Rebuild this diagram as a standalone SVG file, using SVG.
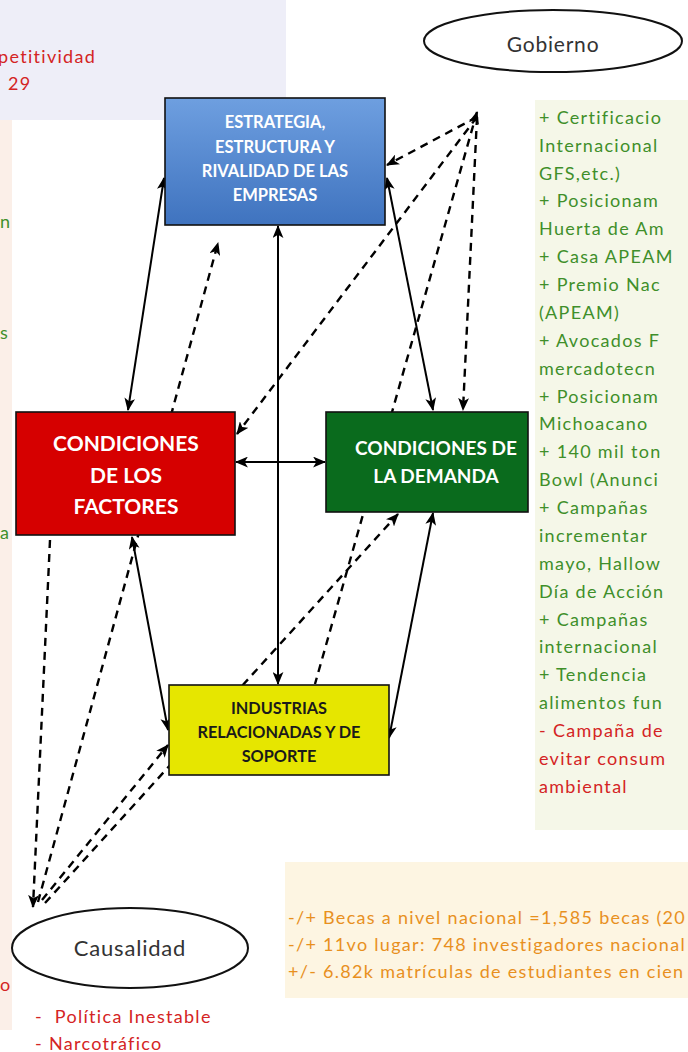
<svg xmlns="http://www.w3.org/2000/svg" width="688" height="1052" viewBox="0 0 688 1052">
<defs>
<style>
.sol{stroke:#000;stroke-width:2;fill:none}
.dsh{stroke:#000;stroke-width:2.4;fill:none;stroke-dasharray:8 6}
.box{stroke:#111;stroke-width:1.6}
.bt{font-family:Lato,"Liberation Sans",sans-serif;font-weight:bold;text-anchor:middle}
.rt{font-family:Lato,"Liberation Sans",sans-serif;font-size:18px;letter-spacing:1.3px}
.g{fill:#3f8f2a}
.r{fill:#d42424}
.o{fill:#e8901e}
.ell{fill:#fff;stroke:#111;stroke-width:2}
.et{font-family:Lato,"Liberation Sans",sans-serif;fill:#333;text-anchor:middle;letter-spacing:0.8px}
</style>
<linearGradient id="blue" x1="0" y1="0" x2="0" y2="1">
<stop offset="0" stop-color="#6e9fe0"/>
<stop offset="1" stop-color="#3f73bf"/>
</linearGradient>
<marker id="ah" markerUnits="userSpaceOnUse" viewBox="0 0 12 10" refX="11" refY="5" markerWidth="13" markerHeight="11" orient="auto-start-reverse">
<path d="M0,0 L12,5 L0,10 L3,5 z" fill="#000"/>
</marker>
</defs>

<!-- background panels -->
<g id="panels">
<rect x="0" y="0" width="286" height="120" fill="#eeeef8"/>
<rect x="0" y="120" width="12" height="910" fill="#fbefe8"/>
<rect x="535" y="100" width="153" height="730" fill="#f5f7e8"/>
<rect x="285" y="862" width="403" height="136" fill="#fdf5e2"/>
</g>

<!-- connectors -->
<g id="connectors">
<line class="sol" x1="128" y1="410" x2="164" y2="178" marker-start="url(#ah)" marker-end="url(#ah)"/>
<line class="sol" x1="387" y1="178" x2="433" y2="410" marker-start="url(#ah)" marker-end="url(#ah)"/>
<line class="sol" x1="278" y1="226" x2="278" y2="684" marker-start="url(#ah)" marker-end="url(#ah)"/>
<line class="sol" x1="236" y1="462" x2="325" y2="462" marker-start="url(#ah)" marker-end="url(#ah)"/>
<line class="sol" x1="132" y1="537" x2="168" y2="730" marker-start="url(#ah)" marker-end="url(#ah)"/>
<line class="sol" x1="433" y1="513" x2="389" y2="738" marker-start="url(#ah)" marker-end="url(#ah)"/>

<line class="dsh" x1="477" y1="117" x2="387" y2="165" marker-end="url(#ah)"/>
<line class="dsh" x1="477" y1="117" x2="237" y2="434" marker-end="url(#ah)"/>
<line class="dsh" x1="477" y1="117" x2="463" y2="410" marker-end="url(#ah)"/>
<line class="dsh" x1="477" y1="112" x2="315" y2="684" marker-start="url(#ah)"/>

<line class="dsh" x1="50" y1="540" x2="33" y2="907" marker-end="url(#ah)"/>
<line class="dsh" x1="38" y1="902" x2="218" y2="243" marker-end="url(#ah)"/>
<line class="dsh" x1="42" y1="900" x2="168" y2="745" marker-end="url(#ah)"/>
<line class="dsh" x1="45" y1="903" x2="398" y2="514" marker-end="url(#ah)"/>
</g>

<g id="estrategia">
<rect class="box" x="165" y="98" width="220" height="127" fill="url(#blue)"/>
<text class="bt" font-size="16.5" fill="#fff"><tspan x="275" y="128">ESTRATEGIA,</tspan><tspan x="275" y="153">ESTRUCTURA Y</tspan><tspan x="275" y="177">RIVALIDAD DE LAS</tspan><tspan x="275" y="201">EMPRESAS</tspan></text>
</g>

<g id="factores">
<rect class="box" x="16" y="412" width="219" height="123" fill="#d60000"/>
<text class="bt" font-size="21" fill="#fff"><tspan x="126" y="451">CONDICIONES</tspan><tspan x="126" y="483">DE LOS</tspan><tspan x="126" y="514">FACTORES</tspan></text>
</g>

<g id="demanda">
<rect class="box" x="326" y="412" width="202" height="100" fill="#0a6b1d"/>
<text class="bt" font-size="19" fill="#fff"><tspan x="436" y="455">CONDICIONES DE</tspan><tspan x="436" y="483">LA DEMANDA</tspan></text>
</g>

<g id="industrias">
<rect class="box" x="169" y="685" width="220" height="90" fill="#e6e600"/>
<text class="bt" font-size="16.3" fill="#1a1a1a"><tspan x="279" y="714">INDUSTRIAS</tspan><tspan x="279" y="738">RELACIONADAS Y DE</tspan><tspan x="279" y="762">SOPORTE</tspan></text>
</g>

<g id="gobierno">
<ellipse class="ell" cx="553" cy="41" rx="129" ry="31"/>
<text class="et" x="553" y="52" font-size="21">Gobierno</text>
</g>

<g id="causalidad">
<ellipse class="ell" cx="130" cy="948" rx="118" ry="40"/>
<text class="et" x="130" y="956" font-size="22">Causalidad</text>
</g>

<!-- side texts -->
<g id="texts">
<text class="rt r" x="-2" y="63" font-size="19.5" letter-spacing="0.6">petitividad</text>
<text class="rt r" x="8" y="90" font-size="19.5" letter-spacing="0.6">29</text>
<text class="rt g" x="0" y="228">n</text>
<text class="rt g" x="0" y="339">s</text>
<text class="rt g" x="0" y="539">a</text>
<text class="rt r" x="0" y="991">o</text>

<text class="rt g" x="539" y="124">+ Certificacio</text>
<text class="rt g" x="539" y="152">Internacional</text>
<text class="rt g" x="539" y="180">GFS,etc.)</text>
<text class="rt g" x="539" y="207">+ Posicionam</text>
<text class="rt g" x="539" y="235">Huerta de Am</text>
<text class="rt g" x="539" y="263">+ Casa APEAM</text>
<text class="rt g" x="539" y="291">+ Premio Nac</text>
<text class="rt g" x="539" y="319">(APEAM)</text>
<text class="rt g" x="539" y="347">+ Avocados F</text>
<text class="rt g" x="539" y="375">mercadotecn</text>
<text class="rt g" x="539" y="403">+ Posicionam</text>
<text class="rt g" x="539" y="430">Michoacano</text>
<text class="rt g" x="539" y="458">+ 140 mil ton</text>
<text class="rt g" x="539" y="486">Bowl (Anunci</text>
<text class="rt g" x="539" y="514">+ Campañas</text>
<text class="rt g" x="539" y="542">incrementar</text>
<text class="rt g" x="539" y="570">mayo, Hallow</text>
<text class="rt g" x="539" y="598">Día de Acción</text>
<text class="rt g" x="539" y="626">+ Campañas</text>
<text class="rt g" x="539" y="653">internacional</text>
<text class="rt g" x="539" y="681">+ Tendencia</text>
<text class="rt g" x="539" y="709">alimentos fun</text>
<text class="rt r" x="539" y="737">- Campaña de</text>
<text class="rt r" x="539" y="765">evitar consum</text>
<text class="rt r" x="539" y="793">ambiental</text>

<text class="rt o" x="288" y="924" font-size="19.5" letter-spacing="0.6">-/+ Becas a nivel nacional =1,585 becas (20</text>
<text class="rt o" x="288" y="951" font-size="19.5" letter-spacing="0.6">-/+ 11vo lugar: 748 investigadores nacional</text>
<text class="rt o" x="288" y="978" font-size="19.5" letter-spacing="0.6">+/- 6.82k matrículas de estudiantes en cien</text>

<text class="rt r" x="35" y="1023" font-size="19.5" letter-spacing="0.5" xml:space="preserve">-  Política Inestable</text>
<text class="rt r" x="35" y="1050" font-size="19.5" letter-spacing="0.5">- Narcotráfico</text>
</g>
</svg>
